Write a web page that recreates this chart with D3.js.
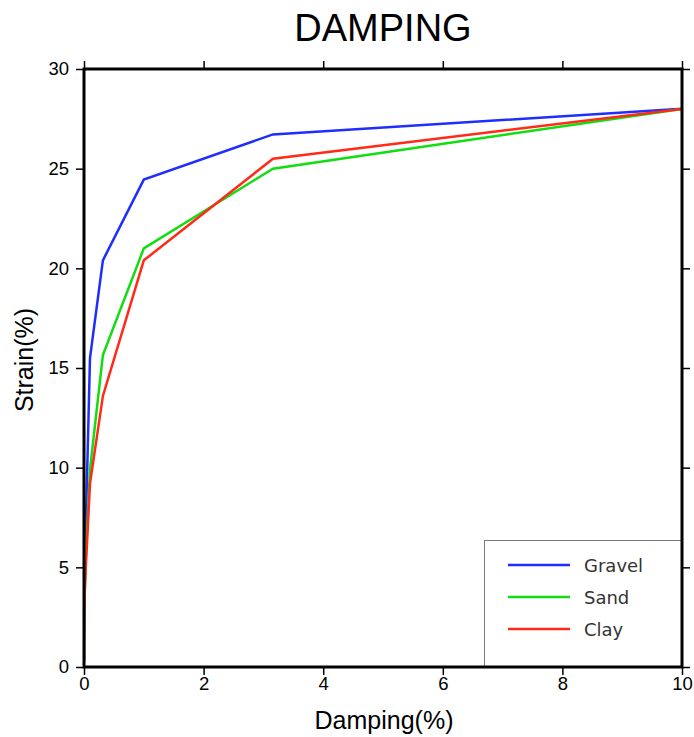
<!DOCTYPE html>
<html>
<head>
<meta charset="utf-8">
<script src="https://cdn.jsdelivr.net/npm/d3@7"></script>
<style>
  html, body { margin: 0; padding: 0; background: #fff; }
  svg { display: block; }
</style>
</head>
<body>
<svg id="chart" width="694" height="737"></svg>
<script>
// Damping (%) sample points, shared by every soil type
const damping = [0.0001, 0.0003, 0.001, 0.003, 0.01, 0.03, 0.1, 0.316, 1, 3.16, 10];
// Strain (%) for each soil type
const gravel = [0.3, 0.8, 1.5, 2.5, 4.0, 7.0, 15.5, 20.4, 24.45, 26.72, 28.0];
const sand   = [0.2, 0.6, 1.2, 2.2, 3.5, 5.5, 9.9, 15.65, 21.0, 25.0, 28.0];
const clay   = [0.3, 0.8, 1.5, 2.5, 3.6, 5.0, 9.2, 13.6, 20.4, 25.5, 28.0];
const seriesNames = ["Gravel", "Sand", "Clay"];
const xTicks = [0, 2, 4, 6, 8, 10];
const yTicks = [0, 5, 10, 15, 20, 25, 30];

const colors = { Gravel: "#1f2dff", Sand: "#11dd11", Clay: "#ff2a17" };
const seriesValues = { Gravel: gravel, Sand: sand, Clay: clay };

const svg = d3.select("#chart");
const pLeft = 84, pRight = 682, pTop = 69, pBottom = 667;

const x = d3.scaleLinear().domain([0, 10]).range([pLeft, pRight]);
const y = d3.scaleLinear().domain([0, 30]).range([pBottom, pTop]);

const sansFont = "'Liberation Sans', Arial, Helvetica, sans-serif";

// Title
svg.append("text")
  .attr("x", 383).attr("y", 41)
  .attr("text-anchor", "middle")
  .style("font-family", sansFont)
  .style("font-size", "38px")
  .style("fill", "#000")
  .text("DAMPING");

// Data lines (clipped to plot area)
svg.append("clipPath").attr("id", "plotclip")
  .append("rect").attr("x", pLeft).attr("y", pTop)
  .attr("width", pRight - pLeft).attr("height", pBottom - pTop);

const line = d3.line()
  .x(d => x(d[0]))
  .y(d => y(d[1]));

const plot = svg.append("g").attr("clip-path", "url(#plotclip)");
seriesNames.forEach(name => {
  const pts = damping.map((d, i) => [d, seriesValues[name][i]]);
  plot.append("path")
    .datum(pts)
    .attr("d", line)
    .attr("fill", "none")
    .attr("stroke", colors[name])
    .attr("stroke-width", 2.5)
    .attr("stroke-linejoin", "miter");
});

// Legend
const legend = svg.append("g");
legend.append("rect")
  .attr("x", 484.5).attr("y", 540.5)
  .attr("width", pRight - 484.5).attr("height", pBottom - 540.5)
  .attr("fill", "#fff")
  .attr("stroke", "#777")
  .attr("stroke-width", 1);
seriesNames.forEach((name, i) => {
  const ly = 565 + i * 32;
  legend.append("line")
    .attr("x1", 508).attr("x2", 570)
    .attr("y1", ly).attr("y2", ly)
    .attr("stroke", colors[name])
    .attr("stroke-width", 2.4);
  legend.append("text")
    .attr("x", 584).attr("y", ly + 6.5)
    .style("font-family", "'DejaVu Sans', Verdana, sans-serif")
    .style("font-size", "18px")
    .style("fill", "#333")
    .text(name);
});

// Axes: ticks outward on all four sides
const tickFont = "18.5px";
const axBottom = d3.axisBottom(x).tickValues(xTicks).tickSize(8).tickPadding(2).tickFormat(d3.format("d"));
const axTop = d3.axisTop(x).tickValues(xTicks).tickSize(8).tickFormat("");
const axLeft = d3.axisLeft(y).tickValues(yTicks).tickSize(8).tickPadding(7).tickFormat(d3.format("d"));
const axRight = d3.axisRight(y).tickValues(yTicks).tickSize(8).tickFormat("");

function styleAxis(g) {
  g.select(".domain").remove();
  g.selectAll(".tick line").attr("stroke", "#000").attr("stroke-width", 1.5);
  g.selectAll(".tick text")
    .style("font-family", sansFont)
    .style("font-size", tickFont)
    .style("fill", "#000");
}

svg.append("g").attr("transform", `translate(0,${pBottom})`).call(axBottom).call(styleAxis);
svg.append("g").attr("transform", `translate(0,${pTop})`).call(axTop).call(styleAxis);
svg.append("g").attr("transform", `translate(${pLeft},0)`).call(axLeft).call(styleAxis);
svg.append("g").attr("transform", `translate(${pRight},0)`).call(axRight).call(styleAxis);

// Thick frame
svg.append("rect")
  .attr("x", pLeft).attr("y", pTop)
  .attr("width", pRight - pLeft).attr("height", pBottom - pTop)
  .attr("fill", "none")
  .attr("stroke", "#000")
  .attr("stroke-width", 3);

// Axis labels
svg.append("text")
  .attr("x", 384).attr("y", 729)
  .attr("text-anchor", "middle")
  .style("font-family", sansFont)
  .style("font-size", "25px")
  .style("fill", "#000")
  .text("Damping(%)");

svg.append("text")
  .attr("transform", `translate(33,360) rotate(-90)`)
  .attr("text-anchor", "middle")
  .style("font-family", sansFont)
  .style("font-size", "25px")
  .style("fill", "#000")
  .text("Strain(%)");
</script>
</body>
</html>
